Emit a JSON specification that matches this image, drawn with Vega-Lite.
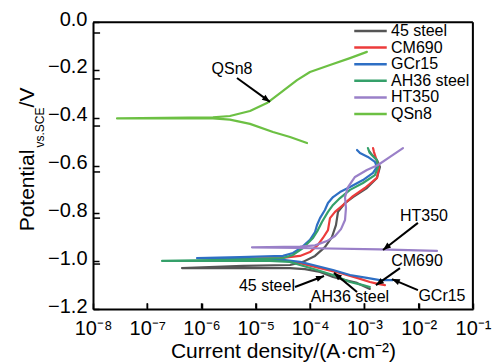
{
  "$schema": "https://vega.github.io/schema/vega-lite/v6.json",
  "width": 380,
  "height": 287,
  "autosize": "none",
  "padding": {"left": 93, "top": 22, "right": 25, "bottom": 53},
  "background": "white",
  "config": {"font": "Liberation Sans"},
  "datasets": {
    "curves": [
      {"s":"45 steel","i":1,"j":1.26e-3,"e":-1.116},{"s":"45 steel","i":2,"j":7.30e-4,"e":-1.091},{"s":"45 steel","i":3,"j":4.39e-4,"e":-1.079},{"s":"45 steel","i":4,"j":2.64e-4,"e":-1.066},{"s":"45 steel","i":5,"j":1.52e-4,"e":-1.045},{"s":"45 steel","i":6,"j":8.04e-5,"e":-1.033},{"s":"45 steel","i":7,"j":4.26e-5,"e":-1.029},{"s":"45 steel","i":8,"j":7.80e-6,"e":-1.029},{"s":"45 steel","i":9,"j":4.36e-7,"e":-1.029},{"s":"45 steel","i":10,"j":5.79e-6,"e":-1.020},{"s":"45 steel","i":11,"j":4.26e-5,"e":-1.016},{"s":"45 steel","i":12,"j":7.38e-5,"e":-1.003},{"s":"45 steel","i":13,"j":1.23e-4,"e":-0.978},{"s":"45 steel","i":14,"j":1.87e-4,"e":-0.941},{"s":"45 steel","i":15,"j":2.52e-4,"e":-0.899},{"s":"45 steel","i":16,"j":2.99e-4,"e":-0.849},{"s":"45 steel","i":17,"j":3.26e-4,"e":-0.794},{"s":"45 steel","i":18,"j":4.39e-4,"e":-0.757},{"s":"45 steel","i":19,"j":6.15e-4,"e":-0.732},{"s":"45 steel","i":20,"j":1.11e-3,"e":-0.694},{"s":"45 steel","i":21,"j":1.70e-3,"e":-0.652},{"s":"45 steel","i":22,"j":1.93e-3,"e":-0.606},{"s":"45 steel","i":23,"j":1.70e-3,"e":-0.577},{"s":"45 steel","i":24,"j":1.38e-3,"e":-0.556},{"s":"45 steel","i":25,"j":1.21e-3,"e":-0.539},
      {"s":"CM690","i":1,"j":2.39e-3,"e":-1.100},{"s":"CM690","i":2,"j":1.78e-3,"e":-1.095},{"s":"CM690","i":3,"j":1.26e-3,"e":-1.087},{"s":"CM690","i":4,"j":7.30e-4,"e":-1.070},{"s":"CM690","i":5,"j":3.55e-4,"e":-1.049},{"s":"CM690","i":6,"j":1.52e-4,"e":-1.029},{"s":"CM690","i":7,"j":6.50e-5,"e":-1.008},{"s":"CM690","i":8,"j":2.78e-5,"e":-0.995},{"s":"CM690","i":9,"j":1.77e-6,"e":-0.991},{"s":"CM690","i":10,"j":2.78e-5,"e":-0.987},{"s":"CM690","i":11,"j":6.50e-5,"e":-0.978},{"s":"CM690","i":12,"j":9.93e-5,"e":-0.962},{"s":"CM690","i":13,"j":1.39e-4,"e":-0.932},{"s":"CM690","i":14,"j":1.72e-4,"e":-0.903},{"s":"CM690","i":15,"j":2.13e-4,"e":-0.870},{"s":"CM690","i":16,"j":2.32e-4,"e":-0.820},{"s":"CM690","i":17,"j":2.87e-4,"e":-0.794},{"s":"CM690","i":18,"j":4.03e-4,"e":-0.765},{"s":"CM690","i":19,"j":6.15e-4,"e":-0.728},{"s":"CM690","i":20,"j":1.02e-3,"e":-0.694},{"s":"CM690","i":21,"j":1.70e-3,"e":-0.652},{"s":"CM690","i":22,"j":1.85e-3,"e":-0.610},{"s":"CM690","i":23,"j":1.63e-3,"e":-0.569},{"s":"CM690","i":24,"j":1.50e-3,"e":-0.544},{"s":"CM690","i":25,"j":1.44e-3,"e":-0.527},
      {"s":"GCr15","i":1,"j":3.36e-3,"e":-1.079},{"s":"GCr15","i":2,"j":1.93e-3,"e":-1.079},{"s":"GCr15","i":3,"j":1.11e-3,"e":-1.070},{"s":"GCr15","i":4,"j":5.42e-4,"e":-1.058},{"s":"GCr15","i":5,"j":2.64e-4,"e":-1.037},{"s":"GCr15","i":6,"j":1.13e-4,"e":-1.016},{"s":"GCr15","i":7,"j":6.50e-5,"e":-1.003},{"s":"GCr15","i":8,"j":3.44e-5,"e":-0.995},{"s":"GCr15","i":9,"j":3.79e-6,"e":-0.991},{"s":"GCr15","i":10,"j":8.24e-7,"e":-0.987},{"s":"GCr15","i":11,"j":5.10e-6,"e":-0.983},{"s":"GCr15","i":12,"j":3.16e-5,"e":-0.978},{"s":"GCr15","i":13,"j":4.83e-5,"e":-0.966},{"s":"GCr15","i":14,"j":7.08e-5,"e":-0.941},{"s":"GCr15","i":15,"j":9.93e-5,"e":-0.911},{"s":"GCr15","i":16,"j":1.23e-4,"e":-0.878},{"s":"GCr15","i":17,"j":1.34e-4,"e":-0.849},{"s":"GCr15","i":18,"j":1.52e-4,"e":-0.820},{"s":"GCr15","i":19,"j":1.87e-4,"e":-0.786},{"s":"GCr15","i":20,"j":2.13e-4,"e":-0.757},{"s":"GCr15","i":21,"j":2.64e-4,"e":-0.732},{"s":"GCr15","i":22,"j":3.55e-4,"e":-0.711},{"s":"GCr15","i":23,"j":5.42e-4,"e":-0.690},{"s":"GCr15","i":24,"j":9.40e-4,"e":-0.661},{"s":"GCr15","i":25,"j":1.44e-3,"e":-0.631},{"s":"GCr15","i":26,"j":1.70e-3,"e":-0.606},{"s":"GCr15","i":27,"j":1.56e-3,"e":-0.585},{"s":"GCr15","i":28,"j":1.16e-3,"e":-0.564},{"s":"GCr15","i":29,"j":8.28e-4,"e":-0.548},{"s":"GCr15","i":30,"j":7.30e-4,"e":-0.535},
      {"s":"AH36 steel","i":1,"j":1.26e-3,"e":-1.108},{"s":"AH36 steel","i":2,"j":9.40e-4,"e":-1.100},{"s":"AH36 steel","i":3,"j":5.42e-4,"e":-1.087},{"s":"AH36 steel","i":4,"j":2.64e-4,"e":-1.058},{"s":"AH36 steel","i":5,"j":1.34e-4,"e":-1.037},{"s":"AH36 steel","i":6,"j":6.50e-5,"e":-1.016},{"s":"AH36 steel","i":7,"j":4.26e-5,"e":-1.003},{"s":"AH36 steel","i":8,"j":1.82e-5,"e":-0.999},{"s":"AH36 steel","i":9,"j":1.87e-7,"e":-0.999},{"s":"AH36 steel","i":10,"j":3.33e-6,"e":-0.995},{"s":"AH36 steel","i":11,"j":3.16e-5,"e":-0.987},{"s":"AH36 steel","i":12,"j":4.83e-5,"e":-0.974},{"s":"AH36 steel","i":13,"j":7.38e-5,"e":-0.945},{"s":"AH36 steel","i":14,"j":1.13e-4,"e":-0.903},{"s":"AH36 steel","i":15,"j":1.39e-4,"e":-0.870},{"s":"AH36 steel","i":16,"j":1.65e-4,"e":-0.836},{"s":"AH36 steel","i":17,"j":2.13e-4,"e":-0.794},{"s":"AH36 steel","i":18,"j":2.64e-4,"e":-0.765},{"s":"AH36 steel","i":19,"j":3.55e-4,"e":-0.736},{"s":"AH36 steel","i":20,"j":5.42e-4,"e":-0.702},{"s":"AH36 steel","i":21,"j":9.40e-4,"e":-0.673},{"s":"AH36 steel","i":22,"j":1.56e-3,"e":-0.640},{"s":"AH36 steel","i":23,"j":1.78e-3,"e":-0.606},{"s":"AH36 steel","i":24,"j":1.70e-3,"e":-0.577},{"s":"AH36 steel","i":25,"j":1.26e-3,"e":-0.548},{"s":"AH36 steel","i":26,"j":1.16e-3,"e":-0.527},
      {"s":"HT350","i":1,"j":2.17e-2,"e":-0.957},{"s":"HT350","i":2,"j":1.93e-3,"e":-0.951},{"s":"HT350","i":3,"j":6.50e-5,"e":-0.945},{"s":"HT350","i":4,"j":8.49e-6,"e":-0.942},{"s":"HT350","i":5,"j":6.50e-5,"e":-0.939},{"s":"HT350","i":6,"j":1.23e-4,"e":-0.934},{"s":"HT350","i":7,"j":2.04e-4,"e":-0.916},{"s":"HT350","i":8,"j":2.87e-4,"e":-0.895},{"s":"HT350","i":9,"j":3.70e-4,"e":-0.866},{"s":"HT350","i":10,"j":4.39e-4,"e":-0.828},{"s":"HT350","i":11,"j":4.57e-4,"e":-0.778},{"s":"HT350","i":12,"j":4.39e-4,"e":-0.732},{"s":"HT350","i":13,"j":4.98e-4,"e":-0.690},{"s":"HT350","i":14,"j":6.70e-4,"e":-0.648},{"s":"HT350","i":15,"j":1.11e-3,"e":-0.619},{"s":"HT350","i":16,"j":1.78e-3,"e":-0.598},{"s":"HT350","i":17,"j":2.96e-3,"e":-0.564},{"s":"HT350","i":18,"j":5.13e-3,"e":-0.527},
      {"s":"QSn8","i":1,"j":8.75e-5,"e":-0.506},{"s":"QSn8","i":2,"j":4.26e-5,"e":-0.481},{"s":"QSn8","i":3,"j":2.07e-5,"e":-0.460},{"s":"QSn8","i":4,"j":7.80e-6,"e":-0.426},{"s":"QSn8","i":5,"j":3.33e-6,"e":-0.408},{"s":"QSn8","i":6,"j":1.62e-6,"e":-0.403},{"s":"QSn8","i":7,"j":2.77e-8,"e":-0.403},{"s":"QSn8","i":8,"j":1.62e-6,"e":-0.399},{"s":"QSn8","i":9,"j":3.33e-6,"e":-0.393},{"s":"QSn8","i":10,"j":7.80e-6,"e":-0.372},{"s":"QSn8","i":11,"j":1.60e-5,"e":-0.339},{"s":"QSn8","i":12,"j":3.16e-5,"e":-0.288},{"s":"QSn8","i":13,"j":5.73e-5,"e":-0.243},{"s":"QSn8","i":14,"j":9.93e-5,"e":-0.209},{"s":"QSn8","i":15,"j":2.32e-4,"e":-0.180},{"s":"QSn8","i":16,"j":5.42e-4,"e":-0.151},{"s":"QSn8","i":17,"j":1.11e-3,"e":-0.125}
    ],
    "notes": [
      {"label":"QSn8","tx":3.63e-6,"ty":-0.197,"ax":4.49e-6,"ay":-0.234,"hx":1.82e-5,"hy":-0.334},
      {"label":"HT350","tx":1.25e-2,"ty":-0.811,"ax":9.68e-3,"ay":-0.840,"hx":2.20e-3,"hy":-0.953},
      {"label":"CM690","tx":9.29e-3,"ty":-0.999,"ax":4.52e-3,"ay":-1.029,"hx":1.63e-3,"hy":-1.100},
      {"label":"GCr15","tx":2.68e-2,"ty":-1.146,"ax":9.68e-3,"ay":-1.121,"hx":3.21e-3,"hy":-1.075},
      {"label":"45 steel","tx":1.60e-5,"ty":-1.104,"ax":5.26e-5,"ay":-1.108,"hx":1.80e-4,"hy":-1.062},
      {"label":"AH36 steel","tx":5.42e-4,"ty":-1.150,"ax":7.30e-4,"ay":-1.129,"hx":2.75e-4,"hy":-1.049}
    ]
  },
  "resolve": {"scale": {"y": "independent"}},
  "layer": [
    {
      "data": {"name": "curves"},
      "mark": {"type": "line", "strokeWidth": 2.2, "strokeJoin": "round", "strokeCap": "round"},
      "encoding": {
        "x": {"field": "j", "type": "quantitative",
          "scale": {"type": "log", "domain": [1e-8, 0.1], "nice": false},
          "axis": {"values": [1e-8,1e-7,1e-6,1e-5,1e-4,1e-3,1e-2,1e-1],
            "labelExpr": "datum.value < 2e-8 ? '10⁻⁸' : datum.value < 2e-7 ? '10⁻⁷' : datum.value < 2e-6 ? '10⁻⁶' : datum.value < 2e-5 ? '10⁻⁵' : datum.value < 2e-4 ? '10⁻⁴' : datum.value < 2e-3 ? '10⁻³' : datum.value < 2e-2 ? '10⁻²' : '10⁻¹'",
            "tickSize": -6, "tickWidth": 1.5, "tickColor": "black", "labelPadding": 15,
            "labelFontSize": 20, "labelFont": "Liberation Sans", "labelColor": "black",
            "labelFlush": false, "labelOverlap": false, "labelBound": false,
            "domainColor": "black", "domainWidth": 2, "grid": false,
            "title": "Current density/(A·cm⁻²)", "titleFontSize": 21, "titleFont": "Liberation Sans",
            "titleFontWeight": "normal", "titleColor": "black", "titleX": 190, "titleY": 48,
            "titleAlign": "center", "titleBaseline": "alphabetic"}},
        "y": {"field": "e", "type": "quantitative",
          "scale": {"domain": [-1.2, 0], "nice": false, "zero": false},
          "axis": {"orient": "left", "values": [-1.2,-1,-0.8,-0.6,-0.4,-0.2,0], "format": ".1f",
            "tickSize": -6, "tickWidth": 1.5, "tickColor": "black", "labelPadding": 12, "labelOffset": -3,
            "labelFontSize": 20, "labelFont": "Liberation Sans", "labelColor": "black",
            "labelFlush": false, "labelOverlap": false, "labelBound": false,
            "domainColor": "black", "domainWidth": 2, "grid": false,
            "title": "Potential", "titleFontSize": 21, "titleFont": "Liberation Sans", "titleFontWeight": "normal",
            "titleColor": "black", "titleX": -60, "titleY": 168, "titleAngle": -90,
            "titleAlign": "center", "titleBaseline": "alphabetic"}},
        "color": {"field": "s", "type": "nominal",
          "scale": {"domain": ["45 steel","CM690","GCr15","AH36 steel","HT350","QSn8"],
                    "range": ["#555555","#ec3b3b","#2e6fc4","#35a06a","#9a80c8","#6cc043"]},
          "legend": {"orient": "none", "legendX": 269.5, "legendY": 1, "title": null,
            "symbolType": "M-2.5,0H2.5", "symbolSize": 169, "symbolStrokeWidth": 2.5,
            "labelFontSize": 16, "labelFont": "Liberation Sans", "labelColor": "black",
            "labelOffset": 12.5, "rowPadding": 0.6, "padding": 0, "symbolOffset": 0}},
        "order": {"field": "i", "type": "quantitative"}
      }
    },
    {
      "data": {"name": "notes"},
      "mark": {"type": "text", "font": "Liberation Sans", "fontSize": 16, "color": "black", "align": "center", "baseline": "middle"},
      "encoding": {
        "x": {"field": "tx", "type": "quantitative"},
        "y": {"field": "ty", "type": "quantitative",
          "scale": {"domain": [-1.2, 0], "nice": false, "zero": false},
          "axis": {"orient": "left", "labels": false, "ticks": false, "domain": false, "grid": false,
            "title": "vs.SCE", "titleFontSize": 12, "titleFont": "Liberation Sans", "titleFontWeight": "normal",
            "titleColor": "black", "titleX": -50, "titleY": 105, "titleAngle": -90,
            "titleAlign": "center", "titleBaseline": "alphabetic"}},
        "text": {"field": "label"}
      }
    },
    {
      "data": {"name": "notes"},
      "mark": {"type": "rule", "strokeWidth": 2, "color": "black"},
      "encoding": {
        "x": {"field": "ax", "type": "quantitative"},
        "x2": {"field": "hx"},
        "y": {"field": "ay", "type": "quantitative",
          "scale": {"domain": [-1.2, 0], "nice": false, "zero": false},
          "axis": {"orient": "left", "labels": false, "ticks": false, "domain": false, "grid": false,
            "title": "/V", "titleFontSize": 21, "titleFont": "Liberation Sans", "titleFontWeight": "normal",
            "titleColor": "black", "titleX": -60, "titleY": 75, "titleAngle": -90,
            "titleAlign": "center", "titleBaseline": "alphabetic"}},
        "y2": {"field": "hy"}
      }
    },
    {
      "data": {"name": "curves"},
      "transform": [{"aggregate": [{"op": "count", "as": "n"}]}],
      "mark": {"type": "rule", "color": "black", "strokeWidth": 2},
      "encoding": {
        "x": {"datum": 1.005e-8, "type": "quantitative"},
        "x2": {"datum": 0.0995},
        "y": {"datum": -0.001, "type": "quantitative", "scale": {"domain": [-1.2, 0], "nice": false, "zero": false}, "axis": null}
      }
    },
    {
      "data": {"name": "curves"},
      "transform": [{"aggregate": [{"op": "count", "as": "n"}]}],
      "mark": {"type": "rule", "color": "black", "strokeWidth": 2},
      "encoding": {
        "x": {"datum": 0.0995, "type": "quantitative"},
        "y": {"datum": -1.199, "type": "quantitative", "scale": {"domain": [-1.2, 0], "nice": false, "zero": false}, "axis": null},
        "y2": {"datum": -0.001}
      }
    },
    {
      "data": {"name": "curves"},
      "transform": [{"aggregate": [{"op": "count", "as": "n"}]}],
      "mark": {"type": "rule", "color": "black", "strokeWidth": 1.5},
      "encoding": {"x": {"datum": 1e-7, "type": "quantitative"}, "y": {"datum": -1.199, "type": "quantitative", "scale": {"domain": [-1.2, 0], "nice": false, "zero": false}, "axis": null}, "y2": {"datum": -1.176}}
    },
    {
      "data": {"name": "curves"},
      "transform": [{"aggregate": [{"op": "count", "as": "n"}]}],
      "mark": {"type": "rule", "color": "black", "strokeWidth": 1.5},
      "encoding": {"x": {"datum": 1e-6, "type": "quantitative"}, "y": {"datum": -1.199, "type": "quantitative", "scale": {"domain": [-1.2, 0], "nice": false, "zero": false}, "axis": null}, "y2": {"datum": -1.176}}
    },
    {
      "data": {"name": "curves"},
      "transform": [{"aggregate": [{"op": "count", "as": "n"}]}],
      "mark": {"type": "rule", "color": "black", "strokeWidth": 1.5},
      "encoding": {"x": {"datum": 1e-5, "type": "quantitative"}, "y": {"datum": -1.199, "type": "quantitative", "scale": {"domain": [-1.2, 0], "nice": false, "zero": false}, "axis": null}, "y2": {"datum": -1.176}}
    },
    {
      "data": {"name": "curves"},
      "transform": [{"aggregate": [{"op": "count", "as": "n"}]}],
      "mark": {"type": "rule", "color": "black", "strokeWidth": 1.5},
      "encoding": {"x": {"datum": 1e-4, "type": "quantitative"}, "y": {"datum": -1.199, "type": "quantitative", "scale": {"domain": [-1.2, 0], "nice": false, "zero": false}, "axis": null}, "y2": {"datum": -1.176}}
    },
    {
      "data": {"name": "curves"},
      "transform": [{"aggregate": [{"op": "count", "as": "n"}]}],
      "mark": {"type": "rule", "color": "black", "strokeWidth": 1.5},
      "encoding": {"x": {"datum": 1e-3, "type": "quantitative"}, "y": {"datum": -1.199, "type": "quantitative", "scale": {"domain": [-1.2, 0], "nice": false, "zero": false}, "axis": null}, "y2": {"datum": -1.176}}
    },
    {
      "data": {"name": "curves"},
      "transform": [{"aggregate": [{"op": "count", "as": "n"}]}],
      "mark": {"type": "rule", "color": "black", "strokeWidth": 1.5},
      "encoding": {"x": {"datum": 1e-2, "type": "quantitative"}, "y": {"datum": -1.199, "type": "quantitative", "scale": {"domain": [-1.2, 0], "nice": false, "zero": false}, "axis": null}, "y2": {"datum": -1.176}}
    },
    {
      "data": {"name": "curves"},
      "transform": [{"aggregate": [{"op": "count", "as": "n"}]}],
      "mark": {"type": "rule", "color": "black", "strokeWidth": 1.5},
      "encoding": {"x": {"datum": 1.005e-8, "type": "quantitative"}, "x2": {"datum": 1.35e-8}, "y": {"datum": -0.046, "type": "quantitative", "scale": {"domain": [-1.2, 0], "nice": false, "zero": false}, "axis": null}}
    },
    {
      "data": {"name": "curves"},
      "transform": [{"aggregate": [{"op": "count", "as": "n"}]}],
      "mark": {"type": "rule", "color": "black", "strokeWidth": 1.5},
      "encoding": {"x": {"datum": 1.005e-8, "type": "quantitative"}, "x2": {"datum": 1.35e-8}, "y": {"datum": -0.238, "type": "quantitative", "scale": {"domain": [-1.2, 0], "nice": false, "zero": false}, "axis": null}}
    },
    {
      "data": {"name": "curves"},
      "transform": [{"aggregate": [{"op": "count", "as": "n"}]}],
      "mark": {"type": "rule", "color": "black", "strokeWidth": 1.5},
      "encoding": {"x": {"datum": 1.005e-8, "type": "quantitative"}, "x2": {"datum": 1.35e-8}, "y": {"datum": -0.435, "type": "quantitative", "scale": {"domain": [-1.2, 0], "nice": false, "zero": false}, "axis": null}}
    },
    {
      "data": {"name": "curves"},
      "transform": [{"aggregate": [{"op": "count", "as": "n"}]}],
      "mark": {"type": "rule", "color": "black", "strokeWidth": 1.5},
      "encoding": {"x": {"datum": 1.005e-8, "type": "quantitative"}, "x2": {"datum": 1.35e-8}, "y": {"datum": -0.627, "type": "quantitative", "scale": {"domain": [-1.2, 0], "nice": false, "zero": false}, "axis": null}}
    },
    {
      "data": {"name": "curves"},
      "transform": [{"aggregate": [{"op": "count", "as": "n"}]}],
      "mark": {"type": "rule", "color": "black", "strokeWidth": 1.5},
      "encoding": {"x": {"datum": 1.005e-8, "type": "quantitative"}, "x2": {"datum": 1.35e-8}, "y": {"datum": -0.820, "type": "quantitative", "scale": {"domain": [-1.2, 0], "nice": false, "zero": false}, "axis": null}}
    },
    {
      "data": {"name": "curves"},
      "transform": [{"aggregate": [{"op": "count", "as": "n"}]}],
      "mark": {"type": "rule", "color": "black", "strokeWidth": 1.5},
      "encoding": {"x": {"datum": 1.005e-8, "type": "quantitative"}, "x2": {"datum": 1.35e-8}, "y": {"datum": -1.012, "type": "quantitative", "scale": {"domain": [-1.2, 0], "nice": false, "zero": false}, "axis": null}}
    },
    {
      "data": {"name": "notes"},
      "transform": [{"filter": "datum.label === 'QSn8'"}],
      "mark": {"type": "point", "shape": "M0,0L-0.6,1.5L0.6,1.5Z", "filled": true, "color": "black", "opacity": 1, "size": 110, "angle": 126},
      "encoding": {
        "x": {"field": "hx", "type": "quantitative"},
        "y": {"field": "hy", "type": "quantitative", "scale": {"domain": [-1.2, 0], "nice": false, "zero": false}, "axis": null}
      }
    },
    {
      "data": {"name": "notes"},
      "transform": [{"filter": "datum.label === 'HT350'"}],
      "mark": {"type": "point", "shape": "M0,0L-0.6,1.5L0.6,1.5Z", "filled": true, "color": "black", "opacity": 1, "size": 110, "angle": 232},
      "encoding": {
        "x": {"field": "hx", "type": "quantitative"},
        "y": {"field": "hy", "type": "quantitative", "scale": {"domain": [-1.2, 0], "nice": false, "zero": false}, "axis": null}
      }
    },
    {
      "data": {"name": "notes"},
      "transform": [{"filter": "datum.label === 'CM690'"}],
      "mark": {"type": "point", "shape": "M0,0L-0.6,1.5L0.6,1.5Z", "filled": true, "color": "black", "opacity": 1, "size": 110, "angle": 235},
      "encoding": {
        "x": {"field": "hx", "type": "quantitative"},
        "y": {"field": "hy", "type": "quantitative", "scale": {"domain": [-1.2, 0], "nice": false, "zero": false}, "axis": null}
      }
    },
    {
      "data": {"name": "notes"},
      "transform": [{"filter": "datum.label === 'GCr15'"}],
      "mark": {"type": "point", "shape": "M0,0L-0.6,1.5L0.6,1.5Z", "filled": true, "color": "black", "opacity": 1, "size": 110, "angle": 293},
      "encoding": {
        "x": {"field": "hx", "type": "quantitative"},
        "y": {"field": "hy", "type": "quantitative", "scale": {"domain": [-1.2, 0], "nice": false, "zero": false}, "axis": null}
      }
    },
    {
      "data": {"name": "notes"},
      "transform": [{"filter": "datum.label === '45 steel'"}],
      "mark": {"type": "point", "shape": "M0,0L-0.6,1.5L0.6,1.5Z", "filled": true, "color": "black", "opacity": 1, "size": 110, "angle": 69},
      "encoding": {
        "x": {"field": "hx", "type": "quantitative"},
        "y": {"field": "hy", "type": "quantitative", "scale": {"domain": [-1.2, 0], "nice": false, "zero": false}, "axis": null}
      }
    },
    {
      "data": {"name": "notes"},
      "transform": [{"filter": "datum.label === 'AH36 steel'"}],
      "mark": {"type": "point", "shape": "M0,0L-0.6,1.5L0.6,1.5Z", "filled": true, "color": "black", "opacity": 1, "size": 110, "angle": 310},
      "encoding": {
        "x": {"field": "hx", "type": "quantitative"},
        "y": {"field": "hy", "type": "quantitative", "scale": {"domain": [-1.2, 0], "nice": false, "zero": false}, "axis": null}
      }
    }
  ]
}
